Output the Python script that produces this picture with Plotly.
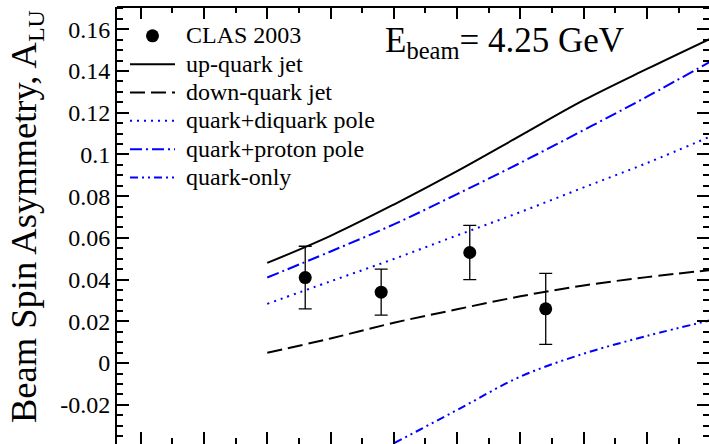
import plotly.graph_objects as go

# ---- data ----
x_curve = [0.3, 0.4, 0.5, 0.6, 0.7, 0.8, 0.9, 1.0]
up_quark_jet = [0.048, 0.061, 0.076, 0.092, 0.109, 0.126, 0.141, 0.1555]
down_quark_jet = [0.0049, 0.0118, 0.0193, 0.0258, 0.032, 0.0372, 0.0412, 0.0446]
quark_diquark_pole = [0.0284, 0.0392, 0.0499, 0.0612, 0.0724, 0.0842, 0.0959, 0.1086]
quark_proton_pole = [0.041, 0.0535, 0.0665, 0.081, 0.096, 0.1117, 0.1277, 0.1445]
quark_only = [-0.0705, -0.0545, -0.0385, -0.0225, -0.0065, 0.0045, 0.013, 0.0205]

clas_x = [0.36, 0.48, 0.62, 0.74]
clas_y = [0.041, 0.034, 0.053, 0.026]
clas_err = [0.015, 0.011, 0.013, 0.017]

y_tickvals = [-0.02, 0, 0.02, 0.04, 0.06, 0.08, 0.1, 0.12, 0.14, 0.16]
y_ticktext = ["-0.02", "0", "0.02", "0.04", "0.06", "0.08", "0.1", "0.12", "0.14", "0.16"]

FONT = "Liberation Serif, Times New Roman, serif"
BLUE = "#0000ff"


def lbl(s):
    return '<span style="font-size:24px">\u00a0' + s + "</span>"


fig = go.Figure()

curves = [
    ("up-quark jet", up_quark_jet, "black", "solid"),
    ("down-quark jet", down_quark_jet, "black", "15px,6px"),
    ("quark+diquark pole", quark_diquark_pole, BLUE, "2px,5px"),
    ("quark+proton pole", quark_proton_pole, BLUE, "12px,4px,2px,4px"),
    ("quark-only", quark_only, BLUE, "8px,4px,2px,4px,2px,4px"),
]
for i, (name, vals, col, dash) in enumerate(curves):
    fig.add_trace(go.Scatter(
        x=x_curve, y=vals, mode="lines", name=lbl(name),
        line=dict(color=col, width=2, dash=dash, shape="spline"),
        legendrank=2 + i, hoverinfo="skip"))

fig.add_trace(go.Scatter(
    x=clas_x, y=clas_y, mode="markers", name=lbl("CLAS 2003"),
    marker=dict(color="black", size=13),
    error_y=dict(type="data", array=clas_err, visible=True,
                 color="black", thickness=1.3, width=6.5),
    legendrank=1))

fig.update_layout(
    width=709, height=444,
    margin=dict(l=117, r=0, t=7, b=0),
    paper_bgcolor="white", plot_bgcolor="white",
    font=dict(family=FONT, color="black"),
    showlegend=True,
    legend=dict(x=0.0135, y=0.978, xanchor="left", yanchor="top",
                bgcolor="rgba(0,0,0,0)", borderwidth=0,
                font=dict(family=FONT, size=19.5, color="black"),
                itemwidth=45, tracegroupgap=0),
    xaxis=dict(range=[0.0626, 0.998], showgrid=False, zeroline=False,
               showline=False, mirror="ticks", ticks="inside",
               tick0=0, dtick=0.1, ticklen=12, tickwidth=1.5,
               tickcolor="black", showticklabels=False,
               minor=dict(ticks="inside", dtick=0.05, ticklen=6,
                          tickwidth=1.5, tickcolor="black", showgrid=False),
               automargin=False),
    yaxis=dict(range=[-0.0388, 0.1707], showgrid=False, zeroline=False,
               showline=True, linewidth=2, linecolor="black", mirror="ticks",
               ticks="inside", tickvals=y_tickvals, ticktext=y_ticktext,
               ticklen=12, tickwidth=1.5, tickcolor="black",
               tickfont=dict(family=FONT, size=24, color="black"),
               minor=dict(ticks="inside", dtick=0.005, tick0=0, ticklen=6,
                          tickwidth=1.5, tickcolor="black", showgrid=False),
               automargin=False),
    shapes=[dict(type="line", xref="paper", yref="paper", x0=0, x1=1,
                 y0=1, y1=1, line=dict(color="black", width=2))],
    annotations=[
        dict(text="Beam Spin Asymmetry, A<sub><span style=\"font-size:24px\">LU</span></sub>",
             textangle=-90,
             xref="paper", yref="paper", x=(26 - 117) / 592, y=0.5195,
             xanchor="center", yanchor="middle", showarrow=False,
             font=dict(family=FONT, size=36.5, color="black")),
        dict(text="E<sub>beam</sub>= 4.25 GeV",
             xref="paper", yref="paper", x=(383 - 117) / 592, y=0.9715,
             xanchor="left", yanchor="top", showarrow=False,
             font=dict(family=FONT, size=35, color="black")),
    ],
)

fig.write_html("out.html",
               config={"displayModeBar": False},
               post_script="document.body.style.margin='0px';"
                           "document.body.style.overflow='hidden';")
